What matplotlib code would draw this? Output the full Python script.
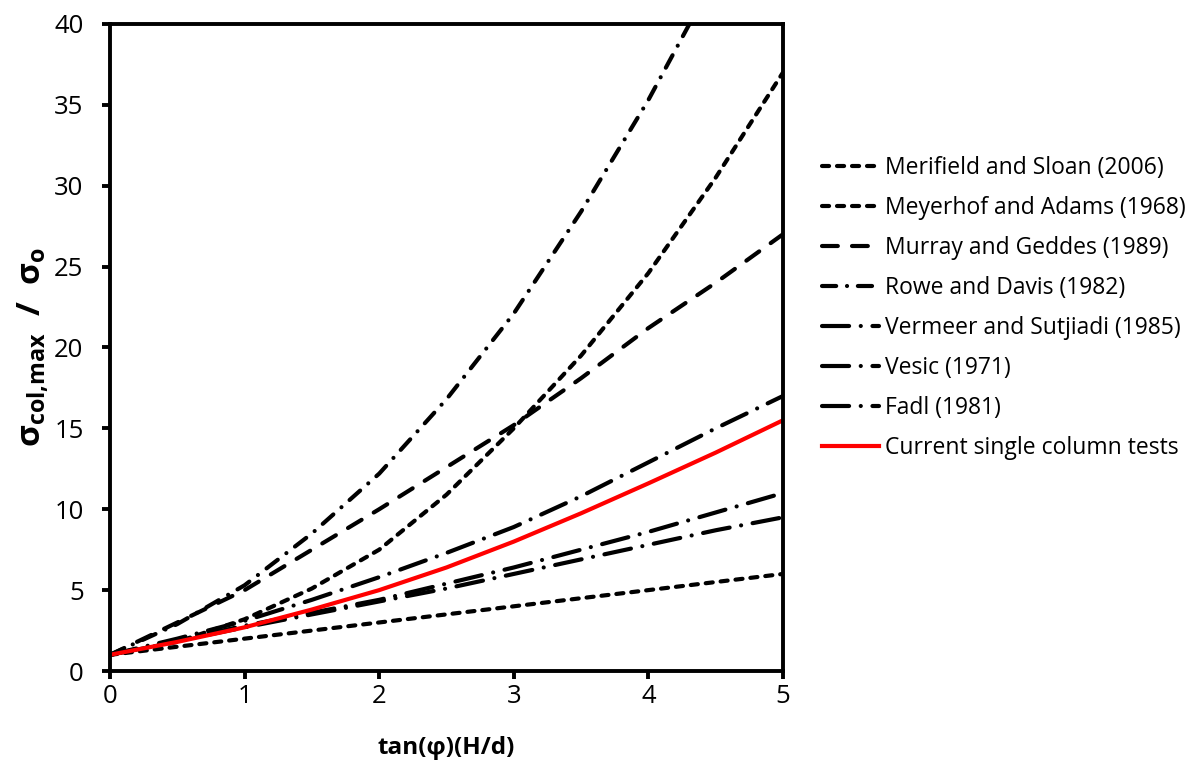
import numpy as np
import matplotlib.pyplot as plt

# x = tan(phi)(H/d)
x = [0, 0.5, 1, 1.5, 2, 2.5, 3, 3.5, 4, 4.5, 5]

merifield = [1, 1.5, 2, 2.5, 3, 3.5, 4, 4.5, 5, 5.5, 6]
meyerhof = [1, 1.8, 3.2, 5.1, 7.5, 10.9, 15.0, 19.5, 24.6, 30.5, 37.0]
murray = [1, 3.0, 5.0, 7.5, 10.0, 12.6, 15.2, 18.1, 21.2, 24.0, 27.0]
rowe = [1, 2.9, 5.3, 8.5, 12.2, 16.8, 22.1, 28.4, 35.3, 43.0, 51.5]
vermeer = [1, 2.0, 3.1, 4.4, 5.8, 7.3, 8.9, 10.8, 12.9, 15.0, 17.0]
vesic = [1, 1.9, 2.8, 3.6, 4.4, 5.4, 6.4, 7.5, 8.6, 9.8, 11.0]
fadl = [1, 1.85, 2.7, 3.5, 4.3, 5.1, 6.0, 6.9, 7.8, 8.7, 9.5]
current = [1, 1.8, 2.7, 3.8, 5.0, 6.4, 8.0, 9.75, 11.6, 13.5, 15.5]

plt.rcParams['font.family'] = ['Open Sans', 'DejaVu Sans']
plt.rcParams['mathtext.fontset'] = 'custom'
plt.rcParams['mathtext.bf'] = 'Open Sans:bold'
plt.rcParams['mathtext.rm'] = 'Open Sans:bold'
plt.rcParams['mathtext.default'] = 'bf'

fig = plt.figure(figsize=(11.93, 7.68), dpi=100)
ax = fig.add_axes([0.0922, 0.1263, 0.5641, 0.8425])

lw = 3.0
series = [
    (merifield, 'Merifield and Sloan (2006)', (1.7, 1.9)),
    (meyerhof, 'Meyerhof and Adams (1968)', (1.7, 1.9)),
    (murray, 'Murray and Geddes (1989)', (3.8, 3.4)),
    (rowe, 'Rowe and Davis (1982)', (3.4, 2.6, 0.01, 2.6)),
    (vermeer, 'Vermeer and Sutjiadi (1985)', (6.5, 2.8, 0.01, 2.8)),
    (vesic, 'Vesic (1971)', (6.5, 2.8, 0.01, 2.8)),
    (fadl, 'Fadl (1981)', (6.5, 2.8, 0.01, 2.8)),
]
for ys, lab, dash in series:
    ax.plot(x, ys, color='black', lw=lw, dashes=dash, dash_capstyle='round',
            label=lab)
ax.plot(x, current, color='#ff0000', lw=lw, label='Current single column tests')

ax.set_xlim(0, 5)
ax.set_ylim(0, 40)
ax.set_xticks(range(0, 6))
ax.set_yticks(range(0, 41, 5))
ax.tick_params(direction='out', length=6, width=2.8, labelsize=18.5)
ax.tick_params(axis='y', pad=13)
ax.tick_params(axis='x', pad=3)
for s in ax.spines.values():
    s.set_linewidth(2.8)

ax.set_xlabel('tan(φ)(H/d)', fontsize=17.5, fontweight='bold', labelpad=20)
ax.set_ylabel(r'σ$_{col{,}max}$  /  σ$_{o}$', fontsize=24, fontweight='bold',
              labelpad=2)

ax.legend(loc='center left', bbox_to_anchor=(0.689, 0.599),
          bbox_transform=fig.transFigure, frameon=False, borderpad=0,
          borderaxespad=0, fontsize=16.5, handlelength=2.5,
          handletextpad=0.25, labelspacing=0.70)

fig.savefig('out.png', dpi=100)
